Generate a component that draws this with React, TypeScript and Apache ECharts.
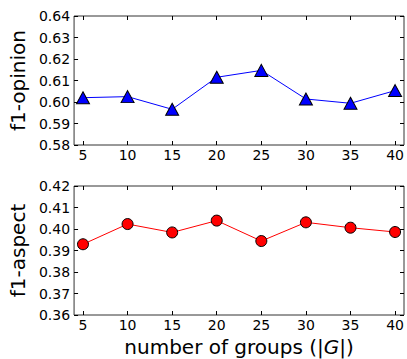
import React, { useEffect, useRef } from "react";
import * as echarts from "echarts";

const groups = [5, 10, 15, 20, 25, 30, 35, 40];
const opinionF1 = [0.602, 0.6025, 0.5966, 0.6115, 0.6147, 0.6014, 0.5994, 0.6053];
const aspectF1 = [0.3929, 0.4023, 0.3984, 0.4039, 0.3944, 0.4031, 0.4006, 0.3986];
const xTickValues = [5, 10, 15, 20, 25, 30, 35, 40];
const opinionTicks = [0.58, 0.59, 0.6, 0.61, 0.62, 0.63, 0.64];
const aspectTicks = [0.36, 0.37, 0.38, 0.39, 0.4, 0.41, 0.42];

const FONT = "DejaVu Sans";

export default function App() {
  const ref = useRef<HTMLDivElement>(null);
  useEffect(() => {
    document.body.style.margin = "0";
    const chart = echarts.init(ref.current!, null, { renderer: "svg" });
    const tick = { show: true, inside: true, length: 4, lineStyle: { color: "#000", width: 1 } };
    const xBase = (grid: number, pos: "bottom" | "top", labels: boolean, name?: any) => ({
      type: "value",
      gridIndex: grid,
      position: pos,
      min: 4,
      max: 41,
      axisLine: { show: false },
      splitLine: { show: false },
      axisTick: { ...tick, customValues: xTickValues },
      axisLabel: {
        show: labels,
        customValues: xTickValues,
        margin: 3,
        fontFamily: FONT,
        fontSize: 14,
        color: "#000",
      },
      ...(name || {}),
    });
    const yBase = (grid: number, pos: "left" | "right", ticks: number[], labels: boolean, name?: string) => ({
      type: "value",
      gridIndex: grid,
      position: pos,
      min: ticks[0],
      max: ticks[ticks.length - 1],
      axisLine: { show: false },
      splitLine: { show: false },
      axisTick: { ...tick, customValues: ticks },
      axisLabel: {
        show: labels,
        customValues: ticks,
        margin: 4,
        fontFamily: FONT,
        fontSize: 14,
        color: "#000",
        formatter: (v: number) => v.toFixed(2),
      },
      ...(name
        ? {
            name,
            nameLocation: "middle",
            nameGap: 44,
            nameTextStyle: { fontFamily: FONT, fontSize: 20, color: "#000" },
          }
        : {}),
    });
    chart.setOption({
      animation: false,
      backgroundColor: "#fff",
      grid: [
        { left: 71, top: 16, width: 333, height: 129, show: true, borderColor: "#333", borderWidth: 1, backgroundColor: "transparent" },
        { left: 71, top: 186, width: 333, height: 129, show: true, borderColor: "#333", borderWidth: 1, backgroundColor: "transparent" },
      ],
      xAxis: [
        xBase(0, "bottom", true),
        xBase(0, "top", false),
        xBase(1, "bottom", true, {
          name: "number of groups (|{g|G}|)",
          nameLocation: "middle",
          nameGap: 22,
          nameTextStyle: {
            fontFamily: FONT,
            fontSize: 20,
            color: "#000",
            rich: { g: { fontFamily: FONT, fontSize: 20, fontStyle: "italic", color: "#000" } },
          },
        }),
        xBase(1, "top", false),
      ],
      yAxis: [
        yBase(0, "left", opinionTicks, true, "f1-opinion"),
        yBase(0, "right", opinionTicks, false),
        yBase(1, "left", aspectTicks, true, "f1-aspect"),
        yBase(1, "right", aspectTicks, false),
      ],
      series: [
        {
          type: "line",
          xAxisIndex: 0,
          yAxisIndex: 0,
          data: groups.map((g, i) => [g, opinionF1[i]]),
          symbol: "triangle",
          symbolSize: [13, 12],
          lineStyle: { color: "#0000ff", width: 1 },
          itemStyle: { color: "#0000ff", borderColor: "#000", borderWidth: 1 },
        },
        {
          type: "line",
          xAxisIndex: 2,
          yAxisIndex: 2,
          data: groups.map((g, i) => [g, aspectF1[i]]),
          symbol: "circle",
          symbolSize: 11,
          lineStyle: { color: "#ff0000", width: 1 },
          itemStyle: { color: "#ff0000", borderColor: "#000", borderWidth: 1 },
        },
      ],
    });
    return () => chart.dispose();
  }, []);
  return <div ref={ref} style={{ width: 407, height: 359 }} />;
}
